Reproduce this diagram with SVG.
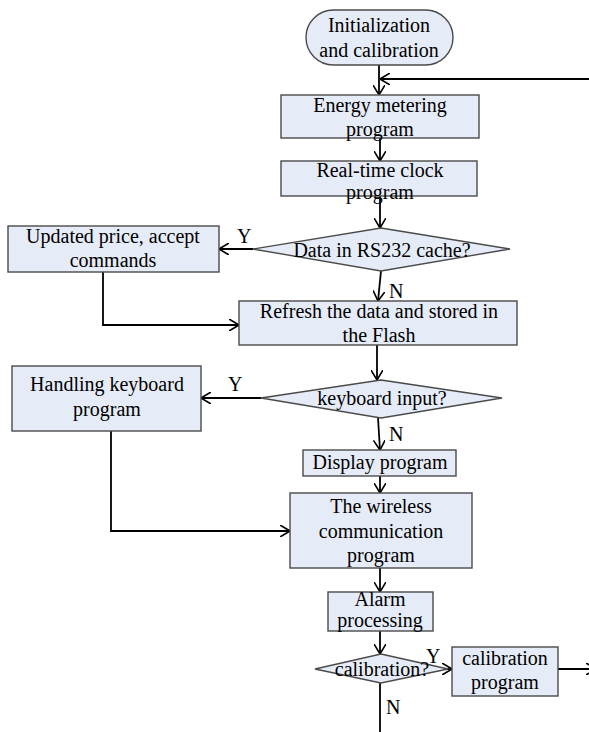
<svg xmlns="http://www.w3.org/2000/svg" width="589" height="732" viewBox="0 0 589 732">
<defs>
<marker id="ah" viewBox="0 0 10 12" refX="10" refY="6" markerWidth="10" markerHeight="12" markerUnits="userSpaceOnUse" orient="auto">
<path d="M0,0 L10,6 L0,12" fill="none" stroke="#000" stroke-width="1.6"/>
</marker>
<style>
.box{fill:#e6ecf7;stroke:#4a4a4a;stroke-width:1.4}
.t{font-family:"Liberation Serif","Times New Roman",serif;font-size:20px;fill:#000;text-anchor:middle}
.l{font-family:"Liberation Serif","Times New Roman",serif;font-size:20px;fill:#000}
.c{fill:none;stroke:#000;stroke-width:1.8}
</style>
</defs>
<rect width="589" height="732" fill="#fff"/>
<g id="connectors">
<line class="c" x1="379" y1="65" x2="379" y2="95" marker-end="url(#ah)"/>
<line class="c" x1="592" y1="79" x2="380" y2="79" marker-end="url(#ah)"/>
<line class="c" x1="380" y1="138" x2="380" y2="161" marker-end="url(#ah)"/>
<line class="c" x1="380" y1="196" x2="380" y2="228" marker-end="url(#ah)"/>
<line class="c" x1="253" y1="249" x2="219" y2="249" marker-end="url(#ah)"/>
<line class="c" x1="381" y1="271" x2="378" y2="301" marker-end="url(#ah)"/>
<polyline class="c" points="103,272 103,325 239,325" marker-end="url(#ah)"/>
<line class="c" x1="377" y1="345" x2="377" y2="380" marker-end="url(#ah)"/>
<line class="c" x1="261" y1="398" x2="201" y2="398" marker-end="url(#ah)"/>
<line class="c" x1="378" y1="418" x2="380" y2="450" marker-end="url(#ah)"/>
<line class="c" x1="380" y1="476" x2="380" y2="493" marker-end="url(#ah)"/>
<polyline class="c" points="111,431 111,531 290,531" marker-end="url(#ah)"/>
<line class="c" x1="380" y1="568" x2="380" y2="592" marker-end="url(#ah)"/>
<line class="c" x1="380" y1="631" x2="380" y2="654" marker-end="url(#ah)"/>
<line class="c" x1="438" y1="669" x2="452" y2="669" marker-end="url(#ah)"/>
<line class="c" x1="558" y1="669" x2="596" y2="669" marker-end="url(#ah)"/>
<line class="c" x1="380" y1="683" x2="380" y2="732"/>
</g>
<g id="labels">
<text class="l" x="237" y="243">Y</text>
<text class="l" x="389" y="298">N</text>
<text class="l" x="228" y="391">Y</text>
<text class="l" x="389" y="441">N</text>
<text class="l" x="426" y="663">Y</text>
<text class="l" x="386" y="714">N</text>
</g>
<g id="start">
<rect class="box" x="306" y="10" width="147" height="55" rx="27.5" ry="27.5"/>
<text class="t" x="379" y="32">Initialization</text>
<text class="t" x="379" y="57">and calibration</text>
</g>
<g id="energy">
<rect class="box" x="281" y="95" width="198" height="43"/>
<text class="t" x="380" y="112">Energy metering</text>
<text class="t" x="380" y="136">program</text>
</g>
<g id="rtc">
<rect class="box" x="281" y="161" width="196" height="35"/>
<text class="t" x="380" y="177">Real-time clock</text>
<text class="t" x="380" y="199">program</text>
</g>
<g id="rs232">
<polygon class="box" points="381,228 510,249 381,271 253,249"/>
<text class="t" x="382" y="257">Data in RS232 cache?</text>
</g>
<g id="updated">
<rect class="box" x="8" y="226" width="211" height="46"/>
<text class="t" x="113" y="243">Updated price, accept</text>
<text class="t" x="113" y="267">commands</text>
</g>
<g id="refresh">
<rect class="box" x="239" y="301" width="278" height="44"/>
<text class="t" x="379" y="318">Refresh the data and stored in</text>
<text class="t" x="379" y="342">the Flash</text>
</g>
<g id="keyboard">
<polygon class="box" points="381,380 502,398 381,418 261,398"/>
<text class="t" x="382" y="405">keyboard input?</text>
</g>
<g id="handling">
<rect class="box" x="12" y="366" width="189" height="65"/>
<text class="t" x="107" y="391">Handling keyboard</text>
<text class="t" x="107" y="416">program</text>
</g>
<g id="display">
<rect class="box" x="303" y="450" width="153" height="26"/>
<text class="t" x="380" y="469">Display program</text>
</g>
<g id="wireless">
<rect class="box" x="290" y="493" width="182" height="75"/>
<text class="t" x="381" y="513">The wireless</text>
<text class="t" x="381" y="538">communication</text>
<text class="t" x="381" y="562">program</text>
</g>
<g id="alarm">
<rect class="box" x="328" y="592" width="105" height="39"/>
<text class="t" x="380" y="606">Alarm</text>
<text class="t" x="380" y="627">processing</text>
</g>
<g id="caldiamond">
<polygon class="box" points="381,654 448,669 381,683 315,669"/>
<text class="t" x="382" y="676">calibration?</text>
</g>
<g id="calprog">
<rect class="box" x="452" y="647" width="106" height="49"/>
<text class="t" x="505" y="665">calibration</text>
<text class="t" x="505" y="689">program</text>
</g>
</svg>
